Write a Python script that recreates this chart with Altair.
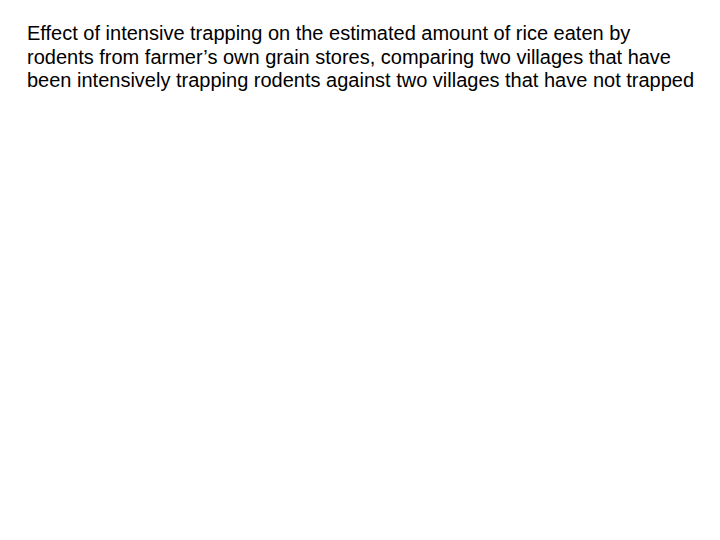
import altair as alt
import pandas as pd

title_lines = [
    "Effect of intensive trapping on the estimated amount of rice eaten by",
    "rodents from farmer\u2019s own grain stores, comparing two villages that have",
    "been intensively trapping rodents against two villages that have not trapped",
]

# No data series are shown in the reference: only the title is visible.
categories = []
values = []

df = pd.DataFrame({"category": categories, "value": values})

chart = (
    alt.Chart(df)
    .mark_bar()
    .encode(
        x=alt.X("category:N", axis=None),
        y=alt.Y("value:Q", axis=None),
    )
    .properties(
        width=700,
        height=520,
        autosize=alt.AutoSizeParams(type="fit", contains="padding"),
        padding={"left": 19, "top": 16, "right": 5, "bottom": 5},
        background="#ffffff",
        title=alt.TitleParams(
            text=title_lines,
            anchor="start",
            frame="bounds",
            font="Liberation Sans",
            fontSize=20,
            fontWeight="normal",
            color="#000000",
            lineHeight=23.5,
            offset=0,
        ),
    )
    .configure_view(strokeWidth=0, stroke="transparent")
)

chart.save("out.html", embed_options={"renderer": "svg", "actions": False})
